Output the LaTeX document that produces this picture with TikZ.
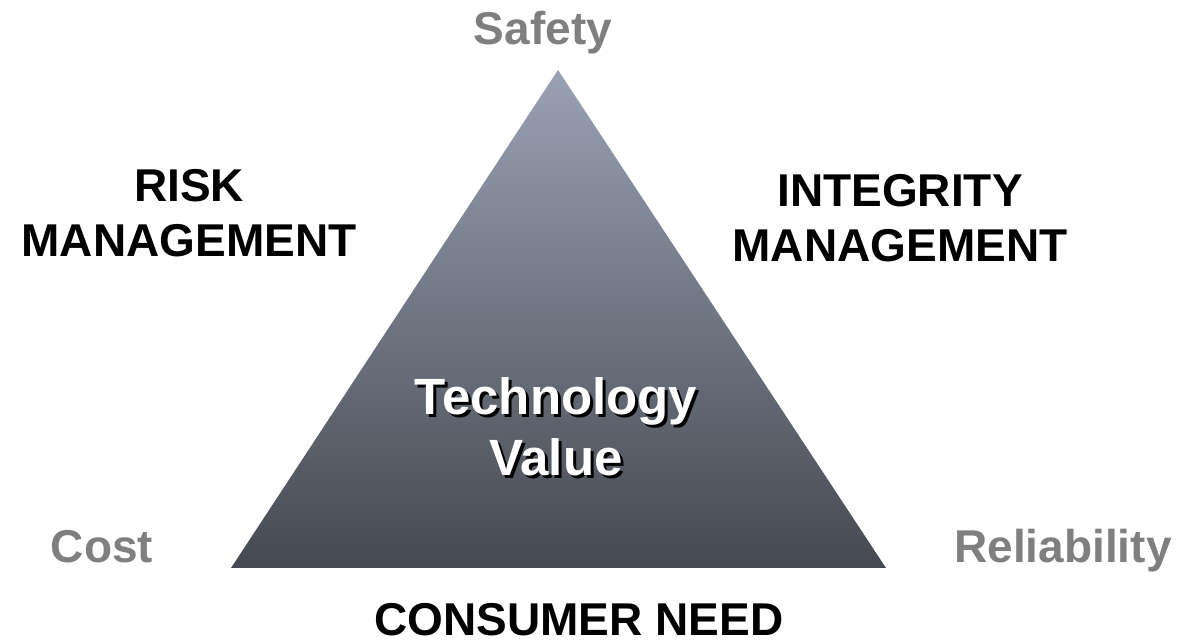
\documentclass[tikz,border=0pt]{standalone}
\usepackage{fontspec}
\setmainfont{Liberation Sans}
\usepackage{tikz}
\usetikzlibrary{calc}
\definecolor{topgray}{HTML}{98A2B3}
\definecolor{botgray}{HTML}{454951}
\definecolor{labgray}{HTML}{7F7F7F}

\begin{document}
\begin{tikzpicture}[x=1pt,y=1pt,
    corner/.style={labgray, font=\bfseries\fontsize{46}{55}\selectfont, anchor=base},
    side/.style={black, font=\bfseries\fontsize{46}{55}\selectfont, align=center, anchor=base},
    inner/.style={font=\bfseries\fontsize{51}{61}\selectfont, align=center, anchor=base}]
  \useasboundingbox (0,0) rectangle (1188,644);

  % Triangulo
  \coordinate (apex) at (558,574);
  \coordinate (left) at (231,76);
  \coordinate (right) at (886,76);
  \shade[top color=topgray, bottom color=botgray] (apex) -- (left) -- (right) -- cycle;

  % Vertices
  \node[corner] (safety) at (543,599) {Safety};
  \node[corner] (cost) at (102,81) {Cost};
  \node[corner] (reliab) at (1063,81) {Reliability};

  % Lados
  \node[side] (risk) at (189,387) {RISK\\MANAGEMENT};
  \node[side] (integ) at (900,382) {INTEGRITY\\MANAGEMENT};
  \node[side] (need) at (579,8) {CONSUMER NEED};

  % Texto central con sombra
  \node[inner, black] (techshadow) at (559,165) {Technology\\Value};
  \node[inner, white] (tech) at (556,168) {Technology\\Value};
\end{tikzpicture}
\end{document}
